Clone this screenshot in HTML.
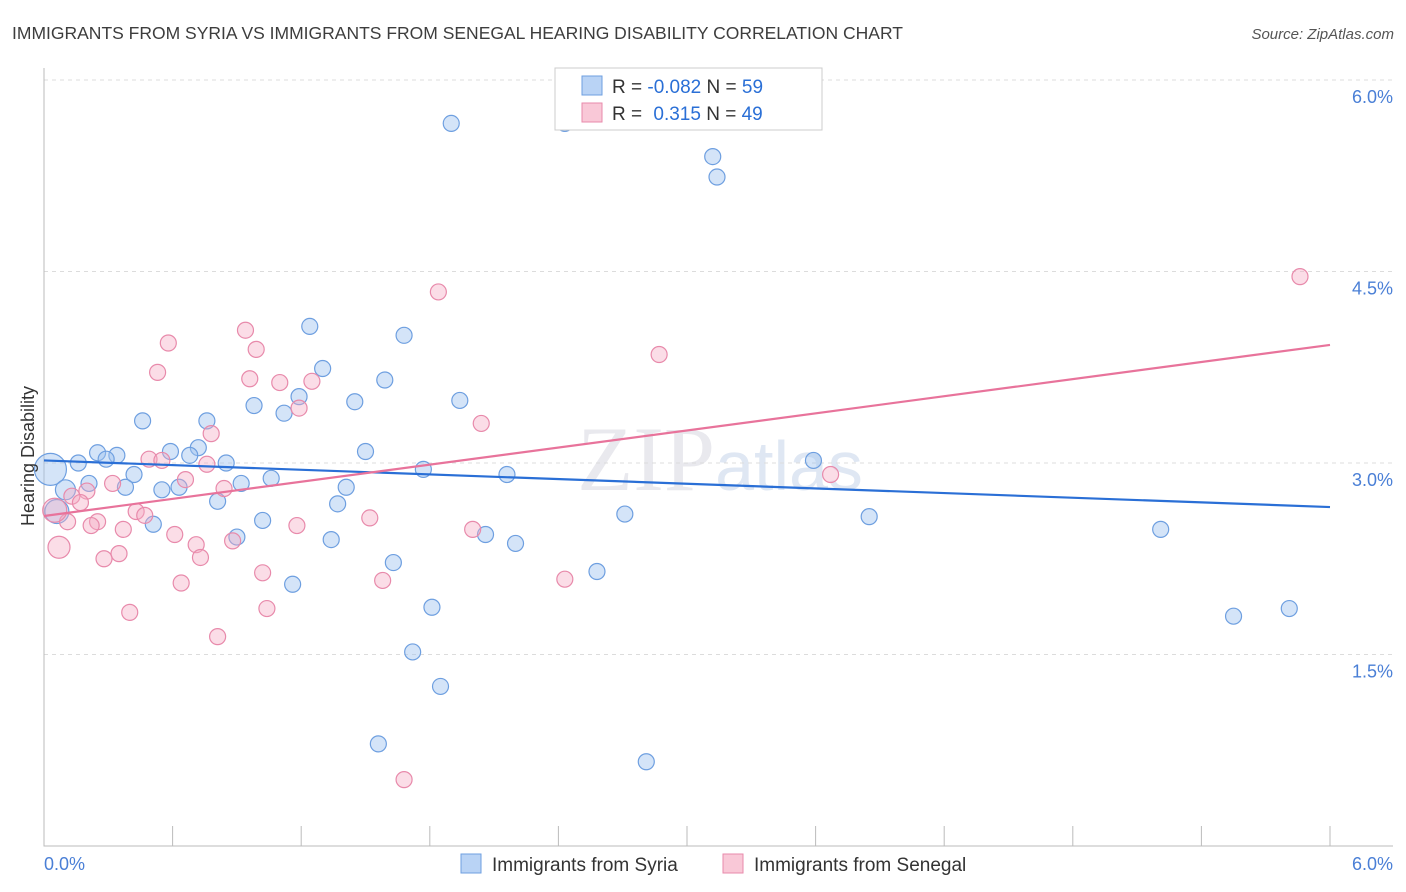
<!DOCTYPE html>
<html><head><meta charset="utf-8"><style>
body{margin:0;background:#fff;font-family:"Liberation Sans",sans-serif}
svg{display:block}
</style></head><body>
<svg id="chart" width="1406" height="892" xmlns="http://www.w3.org/2000/svg">
<text x="12" y="39" font-size="17.5" fill="#3d3d3d">IMMIGRANTS FROM SYRIA VS IMMIGRANTS FROM SENEGAL HEARING DISABILITY CORRELATION CHART</text>
<text x="1394" y="39" font-size="15" fill="#555" font-style="italic" text-anchor="end">Source: ZipAtlas.com</text>
<text x="720" y="490" font-size="92" text-anchor="middle" fill="#e9e9ee" font-family="Liberation Serif, serif">ZIP<tspan fill="#dfe7f3" font-family="Liberation Sans, sans-serif" font-size="70">atlas</tspan></text>
<g id="grid"></g><g id="axes"></g><g id="pts"></g><g id="lines"></g>
<text transform="translate(34,456) rotate(-90)" font-size="18" fill="#333" text-anchor="middle">Hearing Disability</text>
<g>
<rect x="555" y="68" width="267" height="62" fill="#fff" stroke="#ccc"/>
<rect x="582" y="76" width="20" height="19" fill="#b9d3f5" stroke="#6e9fe0"/>
<rect x="582" y="103" width="20" height="19" fill="#f9c8d7" stroke="#e88aab"/>
<text x="612" y="93" font-size="19" fill="#333">R = <tspan fill="#2a6fd6">-0.082</tspan>   N = <tspan fill="#2a6fd6">59</tspan></text>
<text x="612" y="120" font-size="19" fill="#333">R =   <tspan fill="#2a6fd6" dx="6">0.315</tspan>   N = <tspan fill="#2a6fd6">49</tspan></text>
</g>
<g>
<rect x="461" y="854" width="20" height="19" fill="#b9d3f5" stroke="#6e9fe0"/>
<text x="492" y="871" font-size="19" fill="#333">Immigrants from Syria</text>
<rect x="723" y="854" width="20" height="19" fill="#f9c8d7" stroke="#e88aab"/>
<text x="754" y="871" font-size="19" fill="#333">Immigrants from Senegal</text>
</g>
</svg>
<script>
const yTicks=[1.5,3.0,4.5,6.0];
const yTickLabels=["1.5%","3.0%","4.5%","6.0%"];
const xTickLabels=["0.0%","6.0%"];
const syriaX=[1.90,2.43,3.12,3.14,1.24,1.68,1.30,1.59,1.94,1.45,1.19,0.98,1.12,0.46,0.76,1.50,0.72,0.59,0.25,0.34,0.29,0.16,0.68,0.85,1.77,2.16,0.42,1.06,0.92,0.21,0.38,0.63,0.55,1.41,0.81,1.37,0.06,1.02,0.51,2.71,3.85,5.21,0.90,1.34,2.06,2.20,1.63,2.58,1.16,1.81,5.55,5.81,1.72,1.85,1.56,2.81,3.59,0.03,0.10];
const syriaY=[5.66,5.66,5.40,5.24,4.07,4.00,3.74,3.65,3.49,3.48,3.52,3.45,3.39,3.33,3.33,3.09,3.12,3.09,3.08,3.06,3.03,3.00,3.06,3.00,2.95,2.91,2.91,2.88,2.84,2.84,2.81,2.81,2.79,2.81,2.70,2.68,2.62,2.55,2.52,2.60,2.58,2.48,2.42,2.40,2.44,2.37,2.22,2.15,2.05,1.87,1.80,1.86,1.52,1.25,0.80,0.66,3.02,2.95,2.79];
const syriaR=[8,8,8,8,8,8,8,8,8,8,8,8,8,8,8,8,8,8,8,8,8,8,8,8,8,8,8,8,8,8,8,8,8,8,8,8,12,8,8,8,8,8,8,8,8,8,8,8,8,8,8,8,8,8,8,8,8,16,10];
const senX=[5.86,1.84,2.87,0.58,0.94,0.99,0.53,0.96,1.25,1.10,1.19,2.04,0.78,0.49,0.55,0.76,0.66,3.67,0.32,0.84,0.20,0.13,0.17,0.43,0.47,0.25,0.11,0.22,1.52,1.18,0.37,0.61,2.00,0.88,0.71,0.07,0.35,0.73,0.28,1.02,1.58,2.43,0.64,1.04,0.40,0.81,1.68,0.05];
const senY=[4.46,4.34,3.85,3.94,4.04,3.89,3.71,3.66,3.64,3.63,3.43,3.31,3.23,3.03,3.02,2.99,2.87,2.91,2.84,2.80,2.78,2.74,2.69,2.62,2.59,2.54,2.54,2.51,2.57,2.51,2.48,2.44,2.48,2.39,2.36,2.34,2.29,2.26,2.25,2.14,2.08,2.09,2.06,1.86,1.83,1.64,0.52,2.63];
const senR=[8,8,8,8,8,8,8,8,8,8,8,8,8,8,8,8,8,8,8,8,8,8,8,8,8,8,8,8,8,8,8,8,8,8,8,11,8,8,8,8,8,8,8,8,8,8,8,12];
const syriaTrend=[3.02,2.655];
const senTrend=[2.585,3.925];
const NS="http://www.w3.org/2000/svg";
const X0=44,X1=1330,Y0=846;
const xs=v=>X0+(X1-X0)*v/6;
const ys=v=>Y0-v*(Y0-463)/3;
function mk(t,a,p){const e=document.createElementNS(NS,t);for(const k in a)e.setAttribute(k,a[k]);p.appendChild(e);return e;}
const grid=document.getElementById('grid'),axes=document.getElementById('axes'),pts=document.getElementById('pts'),lines=document.getElementById('lines');
yTicks.forEach((t,i)=>{
 const l=mk('line',{x1:X0,x2:1393,y1:ys(t),y2:ys(t),stroke:'#dcdcdc','stroke-dasharray':'4,4'},grid);
 
 
 const tx=mk('text',{x:1393,y:ys(t)+23,'font-size':18,fill:'#4a7fd6','text-anchor':'end'},axes);
 tx.textContent=yTickLabels[i];
 
 
});
const ax=mk('path',{d:`M${X0} 68V${Y0}H1393`,stroke:'#bbb',fill:'none'},axes);


for(let i=0;i<=10;i++){const tk=mk('line',{x1:xs(i*0.6),x2:xs(i*0.6),y1:Y0,y2:826,stroke:'#bbb'},axes);
 
 }
const xl0=mk('text',{x:44,y:870,'font-size':18,fill:'#4a7fd6'},axes);xl0.textContent=xTickLabels[0];


const xl1=mk('text',{x:1393,y:870,'font-size':18,fill:'#4a7fd6','text-anchor':'end'},axes);xl1.textContent=xTickLabels[1];


syriaX.forEach((v,i)=>{const c=mk('circle',{cx:xs(v),cy:ys(syriaY[i]),r:syriaR[i],fill:'rgba(160,195,240,0.45)',stroke:'#6e9fe0','stroke-width':1.2},pts);
 
 });
senX.forEach((v,i)=>{const c=mk('circle',{cx:xs(v),cy:ys(senY[i]),r:senR[i],fill:'rgba(245,170,195,0.4)',stroke:'#e88aab','stroke-width':1.2},pts);
 
 });
const l1=mk('line',{x1:xs(0),x2:xs(6),y1:ys(syriaTrend[0]),y2:ys(syriaTrend[1]),stroke:'#2a6fd6','stroke-width':2.2},lines);


const l2=mk('line',{x1:xs(0),x2:xs(6),y1:ys(senTrend[0]),y2:ys(senTrend[1]),stroke:'#e8739b','stroke-width':2.2},lines);


</script>
</body></html>
